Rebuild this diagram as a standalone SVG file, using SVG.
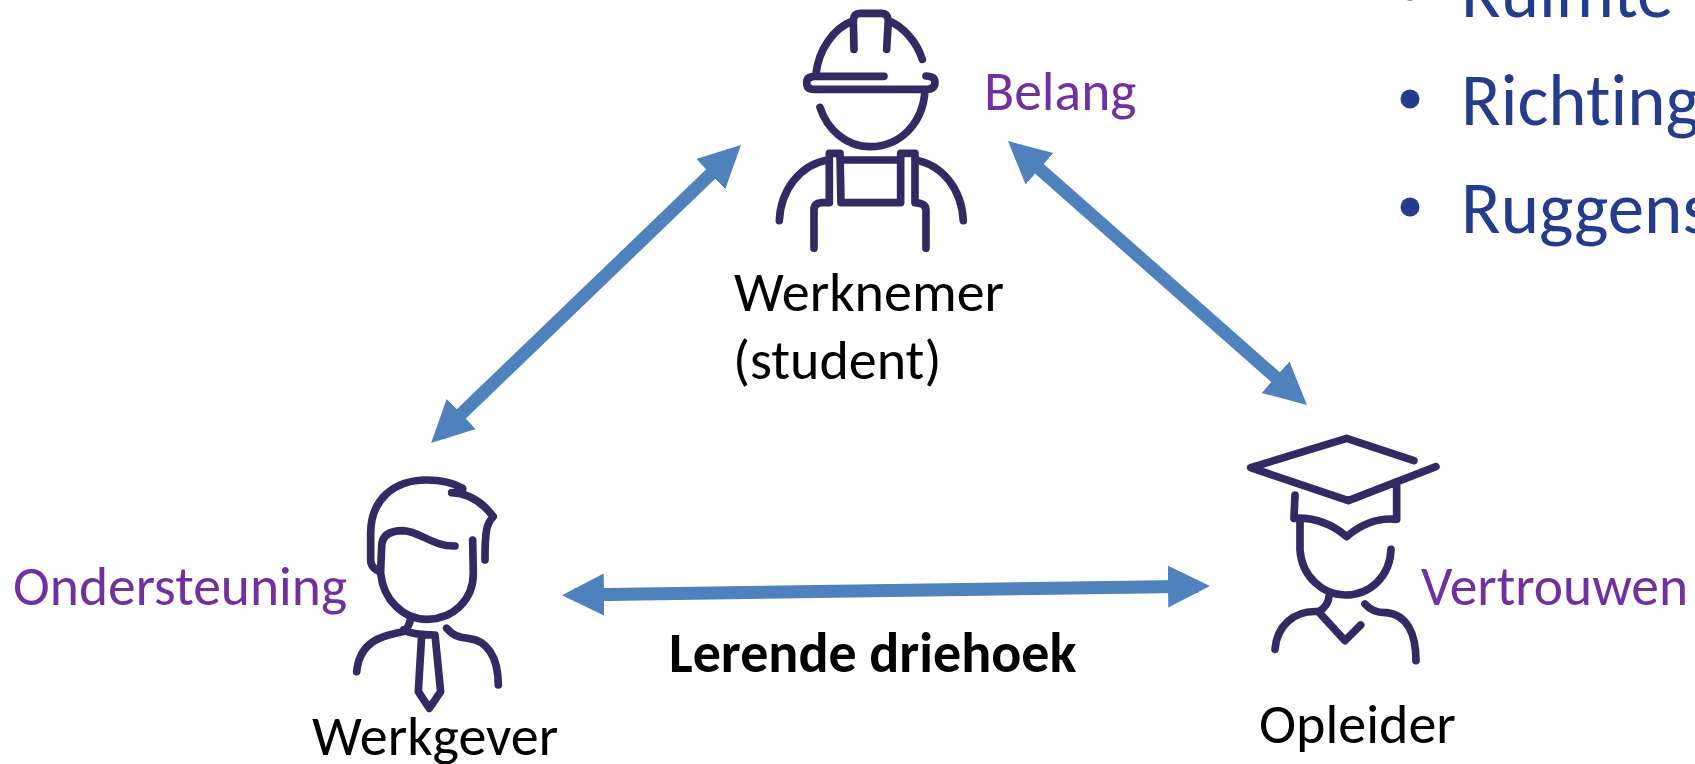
<svg xmlns="http://www.w3.org/2000/svg" width="1695" height="764" viewBox="0 0 1695 764">
<style>
.ic{fill:none;stroke:#322a63;stroke-width:23;stroke-linecap:round;stroke-linejoin:round}
.t{font-family:Carlito,Lato,"Open Sans",sans-serif;font-variant-ligatures:none}
.k{font-size:56px;fill:#000}
.p{font-size:55.5px;fill:#7030a0}
.b{font-size:73px;fill:#253b8c}
.c{fill:none;stroke:#4f81bd;stroke-width:13}
</style>
<defs>
<marker id="ah" markerUnits="userSpaceOnUse" markerWidth="44" markerHeight="44" refX="30" refY="21" orient="auto-start-reverse"><path d="M0 0L42 21L0 42z" fill="#4f81bd"/></marker>
</defs>
<rect width="1695" height="764" fill="#fff"/>
<g id="connectors">
<line class="c" x1="732.3" y1="153.3" x2="439.7" y2="434.7" marker-start="url(#ah)" marker-end="url(#ah)"/>
<line class="c" x1="1017" y1="149" x2="1298" y2="397" marker-start="url(#ah)" marker-end="url(#ah)"/>
<line class="c" x1="574" y1="595" x2="1198" y2="586.2" marker-start="url(#ah)" marker-end="url(#ah)"/>
</g>
<g id="werknemer">
<g transform="translate(740 0) scale(.3333)"><path class="ic" d="M228 222C235 150 280 85 340 62M342 148L340 60Q342 40 360 40L425 40Q442 40 445 60L440 148M445 62C490 80 530 125 547 178M432 229L225 229Q200 229 200 248Q200 268 222 268L560 268Q585 268 585 247Q585 228 558 228M240 322C262 390 320 440 390 440C480 440 550 370 555 270M118 662C122 570 180 495 262 480M222 745L222 630Q222 610 245 608L268 608L268 460L300 460L303 608L482 608L482 460L525 460L525 608Q558 610 558 630L558 745M303 480L482 480M525 480C610 495 665 570 670 662"/></g>
<text class="t k" x="734" y="311">Werknemer</text>
<text class="t k" x="733" y="379">(student)</text>
<text class="t p" x="984" y="110">Belang</text>
</g>
<g id="werkgever">
<g transform="translate(340 460) scale(.3333)"><path class="ic" d="M122 335Q92 325 92 300L92 220C92 120 160 60 260 60C300 60 340 68 368 85Q370 98 335 98C390 100 430 130 460 170C440 190 435 210 435 300M122 330L125 260C125 225 150 212 190 212C240 215 280 260 345 258M122 340C130 420 190 478 260 478C340 478 400 420 400 340L398 240M212 470Q210 500 190 515C150 525 60 530 50 635M190 510Q220 525 285 525M245 525L235 695L268 745L302 695L285 525M320 505Q345 535 385 535C440 540 475 590 475 675"/></g>
<text class="t k" x="312" y="755">Werkgever</text>
<text class="t p" x="13" y="605">Ondersteuning</text>
</g>
<g id="opleider">
<g transform="translate(1230 420) scale(.3333)"><path class="ic" d="M552 122L350 55L62 143L355 242L618 140M195 225L192 295M500 185L500 298Q420 290 350 350Q280 290 192 295M210 295L210 390C215 470 280 525 345 525C420 525 480 470 483 388M298 525Q295 560 265 575C190 570 140 620 135 688M265 575L345 662L392 615M405 552Q430 580 470 578C530 585 558 640 558 722"/></g>
<text class="t k" x="1259" y="743">Opleider</text>
<text class="t p" x="1421" y="605">Vertrouwen</text>
</g>
<g id="titel"><text class="t k" x="669" y="672" font-weight="700">Lerende driehoek</text></g>
<g id="lijst">
<circle cx="1410" cy="-9" r="9.5" fill="#253b8c"/><circle cx="1410" cy="99" r="9.5" fill="#253b8c"/><circle cx="1410" cy="207" r="9.5" fill="#253b8c"/>
<text class="t b" x="1461" y="17">Ruimte</text>
<text class="t b" x="1461" y="125">Richting</text>
<text class="t b" x="1461" y="233">Ruggens</text>
</g>
</svg>
